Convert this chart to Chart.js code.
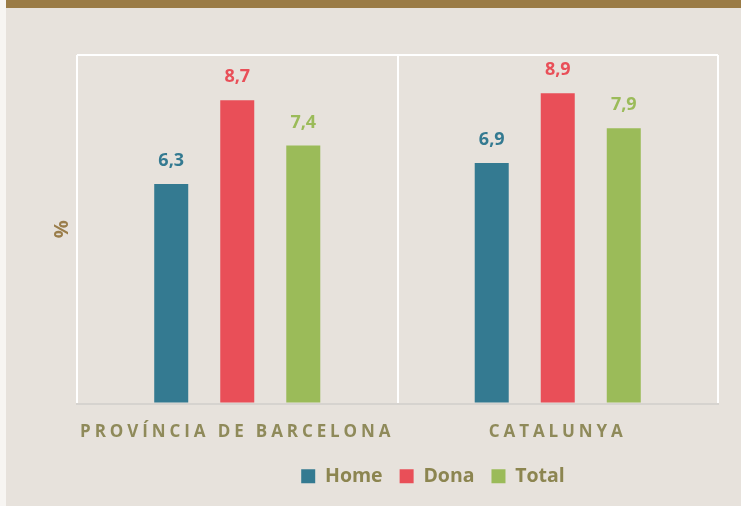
<!DOCTYPE html>
<html><head><meta charset="utf-8">
<script src="https://cdn.jsdelivr.net/npm/chart.js@4.4.1/dist/chart.umd.min.js"></script>
<style>
html,body{margin:0;padding:0;}
body{width:741px;height:506px;background:#e7e2dc;position:relative;overflow:hidden;}
#strip{position:absolute;left:0;top:0;width:6px;height:506px;background:#f7f5f2;}
#topbar{position:absolute;left:6px;top:0;right:0;height:8px;background:#9a7b45;}
canvas{position:absolute;left:0;top:0;}
</style></head><body>
<div id="strip"></div><div id="topbar"></div>
<canvas id="c" width="741" height="506"></canvas>
<script>
const categories = ['PROVÍNCIA DE BARCELONA', 'CATALUNYA'];
const seriesNames = ['Home', 'Dona', 'Total'];
const homeValues = [6.3, 6.9];
const donaValues = [8.7, 8.9];
const totalValues = [7.4, 7.9];
const seriesColors = ['#347a91', '#e94f58', '#9bbb59'];
const yMin = 0, yMax = 10;
const yTitle = '%';

const FONT = '"Open Sans", "Liberation Sans", sans-serif';

const valueLabels = {
  id: 'valueLabels',
  beforeDraw(chart) { chart.ctx.letterSpacing = '0px'; },
  afterLayout(chart) {
    const lg = chart.legend;
    if (lg) { lg.left += 74; lg.right += 74; }
  },
  afterDatasetsDraw(chart) {
    const ctx = chart.ctx;
    ctx.save();
    ctx.letterSpacing = '0px';
    ctx.font = 'bold 18px ' + FONT;
    ctx.textAlign = 'center';
    ctx.textBaseline = 'middle';
    chart.data.datasets.forEach((ds, i) => {
      const meta = chart.getDatasetMeta(i);
      meta.data.forEach((el, j) => {
        ctx.fillStyle = ds.backgroundColor;
        ctx.fillText(ds.data[j].toFixed(1).replace('.', ','), el.x, el.y - 23);
      });
    });
    ctx.restore();
    ctx.letterSpacing = '3.9px';
  },
  afterDraw(chart) { chart.ctx.letterSpacing = '0px'; }
};

const allSeries = [homeValues, donaValues, totalValues];

new Chart(document.getElementById('c'), {
  type: 'bar',
  data: {
    labels: categories,
    datasets: seriesNames.map((n, i) => ({
      label: n,
      data: allSeries[i],
      backgroundColor: seriesColors[i],
      borderWidth: 0,
      barPercentage: 0.515,
      categoryPercentage: 0.618
    }))
  },
  options: {
    responsive: false,
    devicePixelRatio: 1,
    animation: false,
    layout: { padding: { top: 55, right: 23, left: 0, bottom: 10 } },
    plugins: {
      tooltip: { enabled: false },
      legend: {
        position: 'bottom',
        labels: {
          boxWidth: 14, boxHeight: 14, padding: 17,
          color: '#8c8550',
          font: { family: FONT, size: 19.5, weight: 'bold' }
        }
      }
    },
    scales: {
      x: {
        afterFit(s) { s.height = 46; },
        grid: { color: '#ffffff', lineWidth: 2, drawTicks: false, offset: true },
        border: { display: true, color: '#d6d3cf', width: 2 },
        ticks: {
          z: 1,
          padding: 18,
          color: '#8f8a5a',
          font: { family: FONT, size: 17, weight: 'bold' }
        }
      },
      y: {
        min: yMin, max: yMax,
        afterFit(s) { s.width = 77; },
        grid: {
          drawTicks: false, lineWidth: 2,
          color: c => (c.tick && c.tick.value === yMax) ? '#ffffff' : 'rgba(0,0,0,0)'
        },
        border: { display: false },
        ticks: { display: false, stepSize: 10 },
        title: {
          display: true, text: yTitle, color: '#9a7d4a',
          padding: { top: 50, bottom: 0 },
          font: { family: FONT, size: 20, weight: 'bold' }
        }
      }
    }
  },
  plugins: [valueLabels]
});
</script>
</body></html>
